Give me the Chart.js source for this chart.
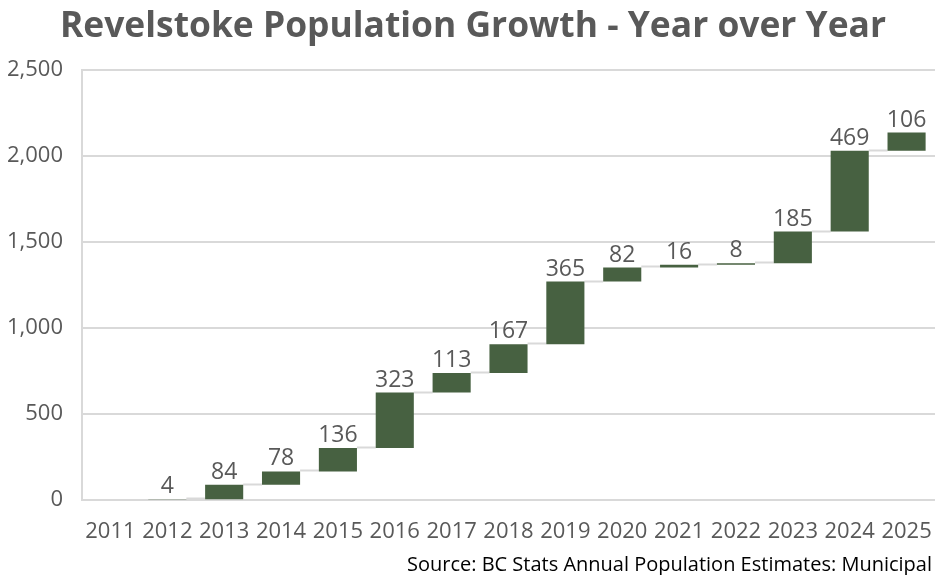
<!DOCTYPE html>
<html>
<head>
<meta charset="utf-8">
<script src="https://cdn.jsdelivr.net/npm/chart.js@4/dist/chart.umd.min.js"></script>
<style>
  html, body { margin: 0; padding: 0; background: #fff; overflow: hidden; }
  #wrap { width: 935px; height: 575px; position: relative; }
</style>
</head>
<body>
<div id="wrap"><canvas id="chart"></canvas></div>
<script>
/* Waterfall of Revelstoke's yearly population change. Each bar floats from
   the previous running total to the new one; thin grey steps join them. */
var years = ["2011", "2012", "2013", "2014", "2015", "2016", "2017", "2018",
             "2019", "2020", "2021", "2022", "2023", "2024", "2025"];
// change over the previous year; 2011 is the base year and has none
var changes = [null, 4, 84, 78, 136, 323, 113, 167, 365, 82, 16, 8, 185, 469, 106];
var yTicks = [0, 500, 1000, 1500, 2000, 2500];

var titleText = "Revelstoke Population Growth - Year over Year";
var sourceText = "Source: BC Stats Annual Population Estimates: Municipal";

var textGrey = "#595959";
var barGreen = "#476141";
var lineGrey = "#d9d9d9";
var fontFamily = "'Open Sans', 'Noto Sans', sans-serif";

// running totals -> [start, end] pairs for floating bars
var totals = [];
var floating = [];
var running = 0;
changes.forEach(function (c) {
    var start = running;
    running += c || 0;
    totals.push(running);
    floating.push([start, running]);
});

var stepLines = {
    id: "stepLines",
    beforeDatasetsDraw: function (chart) {
        var ctx = chart.ctx;
        var bars = chart.getDatasetMeta(0).data;
        var y = chart.scales.y;
        ctx.save();
        ctx.strokeStyle = lineGrey;
        ctx.lineWidth = 2;
        for (var i = 1; i < bars.length - 1; i++) {
            var a = bars[i], b = bars[i + 1];
            var py = Math.round(y.getPixelForValue(totals[i])) - 0.5;
            ctx.beginPath();
            ctx.moveTo(a.x + a.width / 2, py);
            ctx.lineTo(b.x - b.width / 2, py);
            ctx.stroke();
        }
        ctx.restore();
    }
};

var valueLabels = {
    id: "valueLabels",
    afterDatasetsDraw: function (chart) {
        var ctx = chart.ctx;
        var bars = chart.getDatasetMeta(0).data;
        ctx.save();
        ctx.font = "23px " + fontFamily;
        ctx.fillStyle = textGrey;
        ctx.textAlign = "center";
        ctx.textBaseline = "bottom";
        bars.forEach(function (bar, i) {
            if (changes[i] == null) return;
            var top = Math.min(bar.y, bar.base);
            ctx.fillText(String(changes[i]), bar.x, top - 1);
        });
        ctx.restore();
    }
};

var headings = {
    id: "headings",
    afterDraw: function (chart) {
        var ctx = chart.ctx;
        ctx.save();
        ctx.fillStyle = textGrey;
        ctx.font = "bold 35.4px " + fontFamily;
        ctx.textAlign = "center";
        ctx.textBaseline = "alphabetic";
        ctx.fillText(titleText, 473, 37);
        ctx.fillStyle = "#000";
        ctx.font = "20px " + fontFamily;
        ctx.textAlign = "right";
        ctx.fillText(sourceText, 932, 571);
        ctx.restore();
    }
};

new Chart(document.getElementById("chart"), {
    type: "bar",
    data: {
        labels: years,
        datasets: [{
            data: floating,
            backgroundColor: barGreen,
            borderSkipped: false,
            barPercentage: 0.67,
            categoryPercentage: 1
        }]
    },
    options: {
        responsive: true,
        maintainAspectRatio: false,
        animation: false,
        layout: { padding: { top: 70, right: 0, bottom: 0, left: 0 } },
        plugins: {
            legend: { display: false },
            tooltip: { enabled: false }
        },
        scales: {
            x: {
                grid: { display: false, drawTicks: false },
                border: { display: true, color: lineGrey, width: 2 },
                ticks: {
                    color: textGrey,
                    font: { family: fontFamily, size: 22 },
                    padding: 19,
                    maxRotation: 0,
                    autoSkip: false
                },
                afterFit: function (scale) {
                    scale.height = 75;
                    scale.paddingLeft = 0;
                    scale.paddingRight = 0;
                }
            },
            y: {
                min: 0,
                max: 2500,
                afterBuildTicks: function (scale) {
                    scale.ticks = yTicks.map(function (v) { return { value: v }; });
                },
                grid: { color: lineGrey, lineWidth: 2, drawTicks: false },
                border: { display: true, color: lineGrey, width: 2 },
                ticks: {
                    color: textGrey,
                    font: { family: fontFamily, size: 22 },
                    padding: 19,
                    callback: function (v) { return v.toLocaleString("en-US"); }
                },
                afterFit: function (scale) { scale.width = 82; }
            }
        }
    },
    plugins: [stepLines, valueLabels, headings]
});
</script>
</body>
</html>
